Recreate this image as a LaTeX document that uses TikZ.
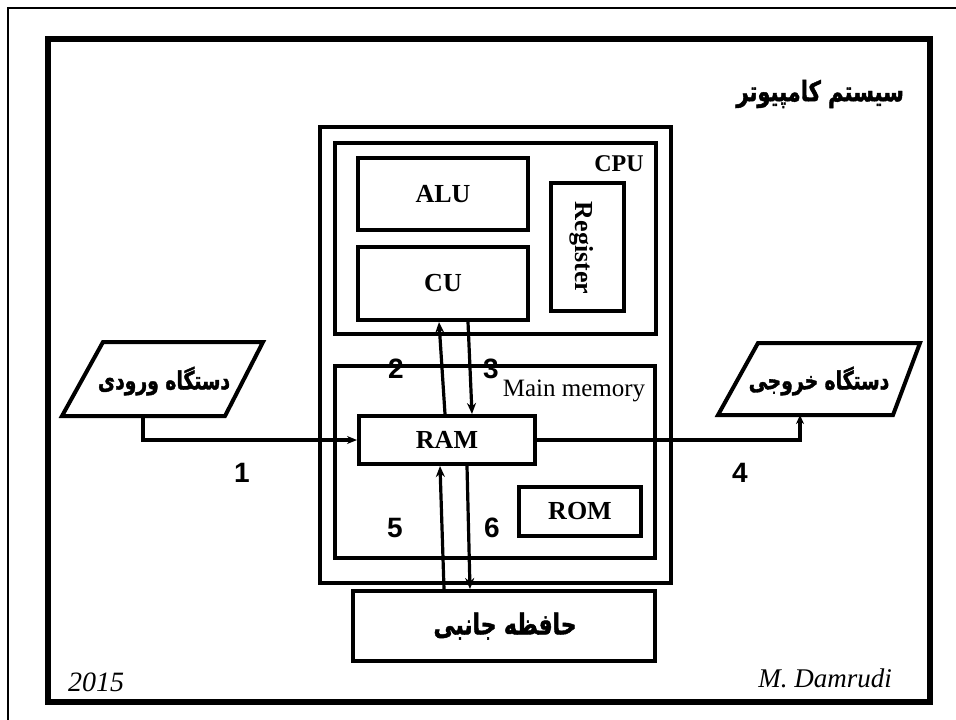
\documentclass[tikz,border=0pt]{standalone}
\usepackage{fontspec}
\setmainfont{Liberation Serif}
\newfontfamily\numfont{Liberation Sans}
\newfontfamily\arabicfont[Script=Arabic,FakeStretch=0.75,FakeBold=1.5]{DejaVu Sans}
\TeXXeTstate=1
\usetikzlibrary{arrows.meta}
\begin{document}
\begin{tikzpicture}[x=1pt,y=-1pt,
  box/.style={draw,line width=4pt,inner sep=0pt,font=\fontsize{26}{30}\selectfont\bfseries},
  lbl/.style={inner sep=0pt,font=\numfont\fontsize{28}{32}\selectfont\bfseries},
  fa/.style={inner sep=0pt,font=\arabicfont\fontsize{25}{30}\selectfont\bfseries},
  conn/.style={line width=3.2pt,-{Stealth[length=11pt,width=9pt]}},
  para/.style={line width=4pt,line join=miter}]
\useasboundingbox (0,0) rectangle (956,720);
% frames
\draw[line width=2.5pt] (8,720) -- (8,8) -- (956,8);
\draw[line width=6pt] (48,39) rectangle (930,702);
% title
\node[fa,anchor=east,font=\arabicfont\fontsize{28}{32}\selectfont\bfseries] (title) at (904,94) {\beginR سیستم کامپیوتر\endR};
% computer
\node[box,minimum width=351pt,minimum height=456pt] (comp) at (495.5,355) {};
\node[box,minimum width=321pt,minimum height=191pt] (cpu) at (495.5,238.5) {};
\node[inner sep=0pt,font=\fontsize{24}{28}\selectfont\bfseries] (cpulbl) at (619,164) {CPU};
\node[box,minimum width=170pt,minimum height=72pt] (alu) at (443,194) {ALU};
\node[box,minimum width=170pt,minimum height=73pt] (cu) at (443,283.5) {CU};
\node[box,minimum width=73pt,minimum height=128pt] (reg) at (587.5,247) {};
\node[inner sep=0pt,rotate=-90,font=\fontsize{26}{30}\selectfont\bfseries] (reglbl) at (582,248) {Register};
\node[box,minimum width=320pt,minimum height=192pt] (mm) at (495,462) {};
\node[inner sep=0pt,font=\fontsize{25}{30}\selectfont] (mmlbl) at (574,391) {Main memory};
\node[box,minimum width=176pt,minimum height=48pt] (ram) at (447,440) {RAM};
\node[box,minimum width=122pt,minimum height=49pt] (rom) at (580,511.5) {ROM};
\node[box,minimum width=302pt,minimum height=70pt] (sec) at (504,626) {};
\node[fa,font=\arabicfont\fontsize{29}{34}\selectfont\bfseries] (seclbl) at (505,626) {\beginR حافظه جانبی\endR};
% input / output
\draw[para] (103,342) -- (263,342) -- (225,416) -- (62,416) -- cycle;
\node[fa] (inlbl) at (164,381) {\beginR دستگاه ورودی\endR};
\coordinate (inb) at (143,416);
\draw[para] (758,343) -- (920,343) -- (893,415) -- (718,415) -- cycle;
\node[fa] (outlbl) at (819,381) {\beginR دستگاه خروجی\endR};
\coordinate (outb) at (800,415);
% connectors
\draw[line width=3.2pt,-{Stealth[length=10pt,width=8pt]}] (inb) |- (ram.west);
\draw[line width=3.2pt,-{Stealth[length=9pt,width=8pt]}] (ram.east) -| (outb);
\draw[conn] ([xshift=-2pt]ram.north) -- ([xshift=-4pt]cu.south);
\draw[conn] ([xshift=25pt]cu.south) -- ([xshift=25pt]ram.north);
\draw[conn] ([xshift=-60pt]sec.north) -- ([xshift=-7pt]ram.south);
\draw[conn] ([xshift=20pt]ram.south) -- ([xshift=-34pt]sec.north);
% numbers
\node[lbl] (n1) at (242,473) {1};
\node[lbl] (n2) at (396,369) {2};
\node[lbl] (n3) at (491,369) {3};
\node[lbl] (n4) at (740,473) {4};
\node[lbl] (n5) at (395,528) {5};
\node[lbl] (n6) at (492,528) {6};
% footer
\node[inner sep=0pt,anchor=west,font=\fontsize{28}{32}\selectfont\itshape] (year) at (68,682) {2015};
\node[inner sep=0pt,anchor=east,font=\fontsize{27}{32}\selectfont\itshape] (author) at (892,678) {M. Damrudi};
\end{tikzpicture}
\end{document}
